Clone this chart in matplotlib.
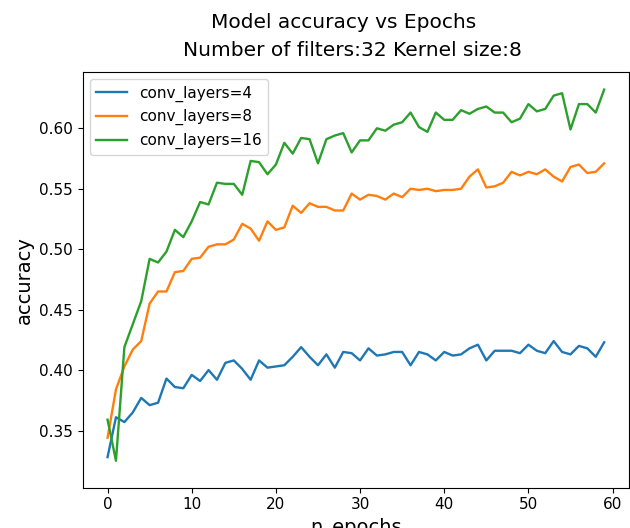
import matplotlib
matplotlib.use("Agg")
import matplotlib.pyplot as plt
import numpy as np

epochs = list(range(60))
acc_4 = [0.328, 0.361, 0.357, 0.365, 0.377, 0.371, 0.373, 0.393, 0.386, 0.385,
         0.396, 0.391, 0.400, 0.392, 0.406, 0.408, 0.401, 0.392, 0.408, 0.402,
         0.403, 0.404, 0.411, 0.419, 0.411, 0.404, 0.413, 0.402, 0.415, 0.414,
         0.408, 0.418, 0.412, 0.413, 0.415, 0.415, 0.404, 0.415, 0.413, 0.408,
         0.415, 0.412, 0.413, 0.418, 0.421, 0.408, 0.416, 0.416, 0.416, 0.414,
         0.421, 0.416, 0.414, 0.424, 0.415, 0.413, 0.420, 0.418, 0.411, 0.423]
acc_8 = [0.344, 0.384, 0.403, 0.417, 0.424, 0.455, 0.465, 0.465, 0.481, 0.482,
         0.492, 0.493, 0.502, 0.504, 0.504, 0.508, 0.521, 0.517, 0.507, 0.523,
         0.516, 0.518, 0.536, 0.530, 0.538, 0.535, 0.535, 0.532, 0.532, 0.546,
         0.541, 0.545, 0.544, 0.541, 0.546, 0.543, 0.550, 0.549, 0.550, 0.548,
         0.549, 0.549, 0.550, 0.560, 0.566, 0.551, 0.552, 0.555, 0.564, 0.561,
         0.564, 0.562, 0.566, 0.560, 0.556, 0.568, 0.570, 0.563, 0.564, 0.571]
acc_16 = [0.359, 0.325, 0.419, 0.438, 0.457, 0.492, 0.489, 0.498, 0.516, 0.510,
          0.523, 0.539, 0.537, 0.555, 0.554, 0.554, 0.545, 0.573, 0.572, 0.562,
          0.570, 0.588, 0.579, 0.592, 0.591, 0.571, 0.591, 0.594, 0.596, 0.580,
          0.590, 0.590, 0.600, 0.598, 0.603, 0.605, 0.613, 0.601, 0.597, 0.613,
          0.607, 0.607, 0.615, 0.612, 0.616, 0.618, 0.613, 0.613, 0.605, 0.608,
          0.620, 0.614, 0.616, 0.627, 0.629, 0.599, 0.620, 0.620, 0.613, 0.632]
labels = ["conv_layers=4", "conv_layers=8", "conv_layers=16"]
title_1 = "Model accuracy vs Epochs"
title_2 = "Number of filters:32 Kernel size:8"

fig = plt.figure(figsize=(6.3, 5.28), dpi=100)
ax = fig.add_axes([0.1313, 0.0765, 0.8671, 0.7877])
for y, lab in zip([acc_4, acc_8, acc_16], labels):
    ax.plot(epochs, y, label=lab, linewidth=1.7)

ax.set_xlim(-2.95, 61.95)
ax.set_ylim(0.3028, 0.6468)
ax.set_xticks([0, 10, 20, 30, 40, 50, 60])
ax.set_yticks([0.35, 0.40, 0.45, 0.50, 0.55, 0.60])
ax.tick_params(labelsize=11)
ax.set_xlabel("n_epochs", fontsize=14)
ax.set_ylabel("accuracy", fontsize=14)
fig.text(0.546, 1 - 22 / 528, title_1, fontsize=14.5, ha="center", va="center")
fig.text(0.560, 1 - 50 / 528, title_2, fontsize=14.5, ha="center", va="center")
ax.legend(loc="upper left", fontsize=11)

fig.savefig("out.png", dpi=100)
